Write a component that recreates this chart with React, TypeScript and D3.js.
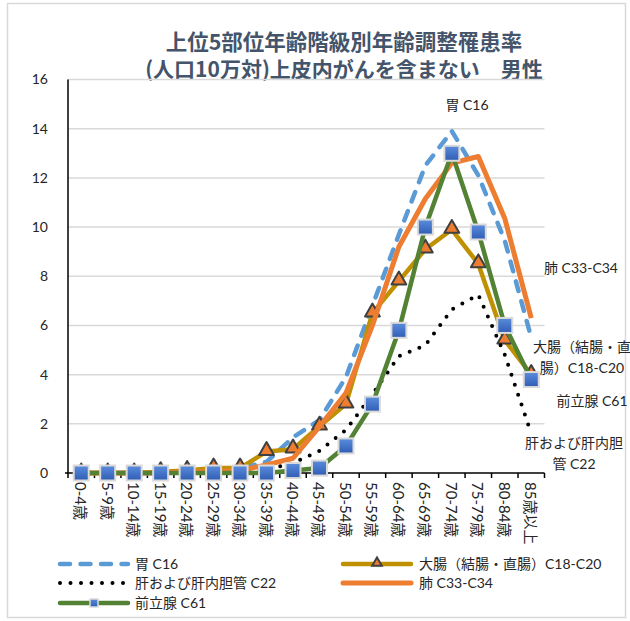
import React, { useEffect, useRef } from 'react'
import * as d3 from 'd3'

const categories = [
  '0-4歳', '5-9歳', '10-14歳', '15-19歳', '20-24歳', '25-29歳', '30-34歳', '35-39歳', '40-44歳',
  '45-49歳', '50-54歳', '55-59歳', '60-64歳', '65-69歳', '70-74歳', '75-79歳', '80-84歳', '85歳以上',
]
const stomach = [0, 0, 0, 0, 0.05, 0.1, 0.2, 0.45, 1.45, 2.15, 3.9, 6.8, 9.7, 12.5, 13.9, 12.1, 9.45, 5.5]
const colorectal = [0, 0, 0, 0.05, 0.1, 0.2, 0.2, 0.87, 0.97, 1.9, 2.8, 6.5, 7.8, 9.1, 9.9, 8.5, 5.4, 4.0]
const liver = [0, 0, 0, 0, 0, 0, 0.05, 0.15, 0.4, 0.9, 1.75, 3.2, 4.75, 5.2, 6.65, 7.25, 4.8, 1.6]
const lung = [0, 0, 0, 0, 0.05, 0.05, 0.1, 0.33, 0.6, 1.88, 3.25, 6.0, 9.2, 11.15, 12.6, 12.87, 10.35, 6.3]
const prostate = [0, 0, 0, 0, 0, 0, 0, 0, 0.1, 0.2, 1.1, 2.8, 5.8, 10.0, 13.0, 9.8, 6.0, 3.8]
const yTicks = [0, 2, 4, 6, 8, 10, 12, 14, 16]

const titleLines = ['上位5部位年齢階級別年齢調整罹患率', '(人口10万対)上皮内がんを含まない　男性']

const FONT = "Lato, 'Noto Sans CJK JP', sans-serif"
const TEXT = '#262626'

const App: React.FC = () => {
  const ref = useRef<SVGSVGElement | null>(null)

  useEffect(() => {
    if (!ref.current) return
    const svg = d3.select(ref.current)
    svg.selectAll('*').remove()

    const x = d3.scaleBand<string>().domain(categories).range([68, 544.5]).padding(0)
    const y = d3.scaleLinear().domain([0, 16]).range([473, 79.5])
    const cx = (i: number) => (x(categories[i]) as number) + x.bandwidth() / 2

    const defs = svg.append('defs')
    const grad = defs.append('linearGradient').attr('id', 'sq').attr('x1', 0).attr('y1', 0).attr('x2', 0).attr('y2', 1)
    grad.append('stop').attr('offset', '0%').attr('stop-color', '#5b8ddc')
    grad.append('stop').attr('offset', '100%').attr('stop-color', '#2f5db5')

    // outer frame
    svg.append('rect')
      .attr('x', 7.5).attr('y', 3.5).attr('width', 618).attr('height', 614)
      .attr('fill', '#fff').attr('stroke', '#d9d9d9').attr('stroke-width', 1.5)

    // title
    svg.append('g')
      .selectAll('text')
      .data(titleLines)
      .enter()
      .append('text')
      .attr('x', 344)
      .attr('y', (d, i) => 50 + i * 27)
      .attr('text-anchor', 'middle')
      .attr('font-family', "'Noto Sans CJK JP', sans-serif")
      .attr('font-weight', 'bold')
      .attr('font-size', (d, i) => (i === 0 ? 21.5 : 21))
      .attr('fill', '#44546a')
      .text(d => d)

    // grid
    svg.append('g')
      .selectAll('line')
      .data(yTicks.filter(t => t > 0))
      .enter()
      .append('line')
      .attr('x1', 68).attr('x2', 544.5)
      .attr('y1', d => y(d)).attr('y2', d => y(d))
      .attr('stroke', '#d9d9d9').attr('stroke-width', 1.5)

    // y axis
    const yAxis = svg.append('g')
    yAxis.append('line')
      .attr('x1', 68).attr('x2', 68).attr('y1', y(16)).attr('y2', y(0))
      .attr('stroke', '#000').attr('stroke-width', 1.5)
    yAxis.selectAll('text')
      .data(yTicks)
      .enter()
      .append('text')
      .attr('x', 48)
      .attr('y', d => y(d))
      .attr('dy', '0.35em')
      .attr('text-anchor', 'end')
      .attr('font-family', FONT)
      .attr('font-size', 14)
      .attr('fill', TEXT)
      .text(d => d)

    // x axis
    const xAxis = svg.append('g')
    xAxis.append('line')
      .attr('x1', 65).attr('x2', 544.5).attr('y1', y(0)).attr('y2', y(0))
      .attr('stroke', '#000').attr('stroke-width', 1.5)
    xAxis.selectAll('line.tick')
      .data(d3.range(categories.length + 1))
      .enter()
      .append('line')
      .attr('class', 'tick')
      .attr('x1', i => 68 + i * x.bandwidth())
      .attr('x2', i => 68 + i * x.bandwidth())
      .attr('y1', y(0)).attr('y2', y(0) + 5)
      .attr('stroke', '#000').attr('stroke-width', 1.5)
    xAxis.selectAll('text')
      .data(categories)
      .enter()
      .append('text')
      .attr('transform', (d, i) => `translate(${cx(i)},${y(0) + 9}) rotate(90)`)
      .attr('dominant-baseline', 'central')
      .attr('font-family', FONT)
      .attr('font-size', 15)
      .attr('fill', TEXT)
      .text(d => d)

    const line = d3.line<number>().x((d, i) => cx(i)).y(d => y(d))

    const plot = svg.append('g')

    // 胃
    plot.append('path')
      .attr('d', line(stomach))
      .attr('fill', 'none').attr('stroke', '#5b9bd5').attr('stroke-width', 4.5)
      .attr('stroke-dasharray', '10,10.5').attr('stroke-linecap', 'round').attr('stroke-linejoin', 'round')

    // 大腸
    plot.append('path')
      .attr('d', line(colorectal))
      .attr('fill', 'none').attr('stroke', '#bf9000').attr('stroke-width', 4.5)
      .attr('stroke-linejoin', 'round')
    const tri = d3.symbol().type(d3.symbolTriangle).size(95)
    plot.append('g')
      .selectAll('path')
      .data(colorectal)
      .enter()
      .append('path')
      .attr('d', tri())
      .attr('transform', (d, i) => `translate(${cx(i)},${y(d) - 1})`)
      .attr('fill', '#ed7d31').attr('stroke', '#404040').attr('stroke-width', 2).attr('stroke-linejoin', 'round')

    // 肝
    plot.append('path')
      .attr('d', line(liver))
      .attr('fill', 'none').attr('stroke', '#000').attr('stroke-width', 4)
      .attr('stroke-dasharray', '0,10.5').attr('stroke-linecap', 'round')

    // 肺
    plot.append('path')
      .attr('d', line(lung))
      .attr('fill', 'none').attr('stroke', '#ed7d31').attr('stroke-width', 5)
      .attr('stroke-linejoin', 'round')

    // 前立腺
    plot.append('path')
      .attr('d', line(prostate))
      .attr('fill', 'none').attr('stroke', '#548235').attr('stroke-width', 4.5)
      .attr('stroke-linejoin', 'round')
    plot.append('g')
      .selectAll('rect')
      .data(prostate)
      .enter()
      .append('rect')
      .attr('x', (d, i) => cx(i) - 7.5)
      .attr('y', d => y(d) - 7.5)
      .attr('width', 15).attr('height', 15)
      .attr('fill', 'url(#sq)').attr('stroke', '#dadada').attr('stroke-width', 2)

    // series labels
    const labels: [string, number, number][] = [
      ['胃 C16', 467, 110],
      ['肺 C33-C34', 581, 273],
      ['大腸（結腸・直', 582, 352],
      ['腸）C18-C20', 582, 373],
      ['前立腺 C61', 592, 406],
      ['肝および肝内胆', 574, 448],
      ['管 C22', 574, 469],
    ]
    svg.append('g')
      .selectAll('text')
      .data(labels)
      .enter()
      .append('text')
      .attr('x', d => d[1]).attr('y', d => d[2])
      .attr('text-anchor', 'middle')
      .attr('font-family', FONT)
      .attr('font-size', 14)
      .attr('fill', TEXT)
      .text(d => d[0])

    // legend
    const legend = svg.append('g')
    const items = [
      { name: '胃 C16', x: 58, y: 564 },
      { name: '大腸（結腸・直腸）C18-C20', x: 341, y: 564 },
      { name: '肝および肝内胆管 C22', x: 58, y: 583 },
      { name: '肺 C33-C34', x: 341, y: 583 },
      { name: '前立腺 C61', x: 58, y: 603 },
    ]
    items.forEach((it, k) => {
      const g = legend.append('g').attr('transform', `translate(${it.x},${it.y})`)
      const ln = g.append('line').attr('x1', 2).attr('x2', 70).attr('y1', 0).attr('y2', 0)
        .attr('stroke-linecap', 'round')
      if (k === 0) ln.attr('stroke', '#5b9bd5').attr('stroke-width', 4.5).attr('stroke-dasharray', '10,10.5')
      if (k === 1) {
        ln.attr('stroke', '#bf9000').attr('stroke-width', 4.5)
        g.append('path').attr('d', d3.symbol().type(d3.symbolTriangle).size(40)())
          .attr('transform', 'translate(36,-1)')
          .attr('fill', '#ed7d31').attr('stroke', '#404040').attr('stroke-width', 2)
      }
      if (k === 2) ln.attr('x1', 2).attr('x2', 68).attr('stroke', '#000').attr('stroke-width', 4).attr('stroke-dasharray', '0,10.5')
      if (k === 3) ln.attr('stroke', '#ed7d31').attr('stroke-width', 5)
      if (k === 4) {
        ln.attr('stroke', '#548235').attr('stroke-width', 4.5)
        g.append('rect').attr('x', 32).attr('y', -4).attr('width', 8).attr('height', 8)
          .attr('fill', 'url(#sq)').attr('stroke', '#dadada').attr('stroke-width', 1.5)
      }
      g.append('text')
        .attr('x', it.x === 58 ? 77 : 78)
        .attr('y', 0)
        .attr('dy', '0.35em')
        .attr('font-family', FONT)
        .attr('font-size', 14)
        .attr('fill', TEXT)
        .text(it.name)
    })
  }, [])

  return (
    <svg
      ref={ref}
      width={630}
      height={621}
      style={{ position: 'absolute', left: 0, top: 0, background: '#fff' }}
    />
  )
}

export default App
